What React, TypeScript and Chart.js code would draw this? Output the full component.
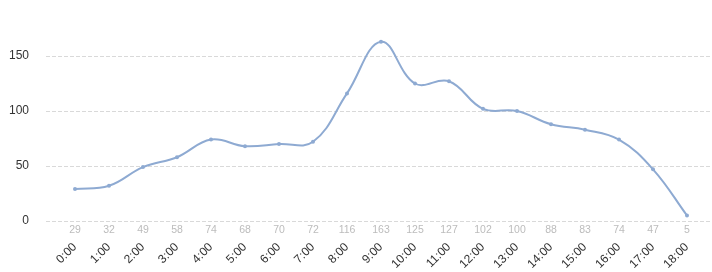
import React, { useEffect, useRef } from "react";
import { Chart, registerables } from "chart.js";

Chart.register(...registerables);

const categories: string[] = [
  "0:00", "1:00", "2:00", "3:00", "4:00", "5:00", "6:00", "7:00", "8:00", "9:00",
  "10:00", "11:00", "12:00", "13:00", "14:00", "15:00", "16:00", "17:00", "18:00",
];
const values: number[] = [29, 32, 49, 58, 74, 68, 70, 72, 116, 163, 125, 127, 102, 100, 88, 83, 74, 47, 5];
const yTicks: number[] = [0, 50, 100, 150];

const FONT = "'Liberation Sans', Arial, sans-serif";
const LINE_COLOR = "#8eaad2";

const gridAndLabels = {
  id: "gridAndLabels",
  beforeDatasetsDraw(chart: any) {
    const { ctx } = chart;
    const y = chart.scales.y;
    ctx.save();
    ctx.strokeStyle = "#d9d9d9";
    ctx.lineWidth = 1;
    ctx.setLineDash([4, 2]);
    for (const t of yTicks) {
      const py = Math.round(y.getPixelForValue(t)) + 0.5;
      ctx.beginPath();
      ctx.moveTo(46, py);
      ctx.lineTo(chart.width, py);
      ctx.stroke();
    }
    ctx.restore();
  },
  afterDraw(chart: any) {
    const { ctx } = chart;
    const x = chart.scales.x;
    ctx.save();
    ctx.fillStyle = "#bcbcbc";
    ctx.font = `10.5px ${FONT}`;
    ctx.textAlign = "center";
    ctx.textBaseline = "middle";
    values.forEach((v, i) => {
      ctx.fillText(String(v), x.getPixelForValue(i), chart.chartArea.bottom + 9.5);
    });
    ctx.restore();
  },
};

export default function App() {
  const ref = useRef<HTMLCanvasElement | null>(null);
  useEffect(() => {
    document.body.style.margin = "0";
    const chart = new Chart(ref.current as HTMLCanvasElement, {
      type: "line",
      data: {
        labels: categories,
        datasets: [
          {
            data: values,
            borderColor: LINE_COLOR,
            backgroundColor: LINE_COLOR,
            borderWidth: 2,
            pointRadius: 2,
            pointBorderWidth: 0,
            pointBackgroundColor: LINE_COLOR,
            tension: 0.4,
            fill: false,
          },
        ],
      },
      options: {
        animation: false,
        responsive: true,
        maintainAspectRatio: false,
        layout: { padding: { top: 23, right: 25, left: 0, bottom: 0 } },
        plugins: { legend: { display: false }, tooltip: { enabled: false } },
        scales: {
          x: {
            offset: false,
            grid: { display: false },
            border: { display: false },
            afterFit: (s: any) => {
              s.height = 51;
              s.paddingLeft = 0;
              s.paddingRight = 0;
              s.paddingTop = 0;
              s.paddingBottom = 0;
            },
            ticks: {
              autoSkip: false,
              maxRotation: 45,
              minRotation: 45,
              padding: 11,
              color: "#333",
              font: { family: FONT, size: 12 },
            },
          },
          y: {
            min: 0,
            max: 180,
            grid: { display: false },
            border: { display: false },
            afterFit: (s: any) => {
              s.width = 75;
              s.paddingLeft = 0;
              s.paddingRight = 0;
              s.paddingTop = 0;
              s.paddingBottom = 0;
            },
            afterBuildTicks: (s: any) => {
              s.ticks = yTicks.map((v) => ({ value: v }));
            },
            ticks: {
              padding: 38,
              color: "#333",
              font: { family: FONT, size: 12 },
            },
          },
        },
      },
      plugins: [gridAndLabels],
    });
    return () => chart.destroy();
  }, []);
  return (
    <div style={{ width: 712, height: 272, position: "relative" }}>
      <canvas ref={ref} />
    </div>
  );
}
